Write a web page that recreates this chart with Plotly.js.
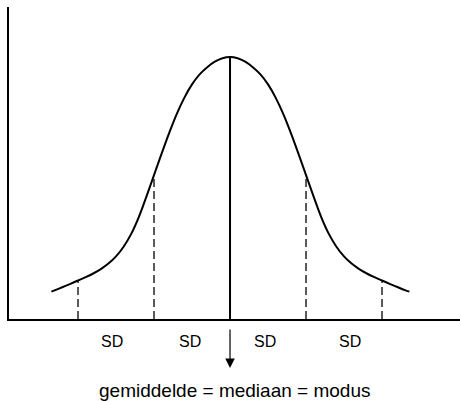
<!DOCTYPE html>
<html>
<head>
<meta charset="utf-8">
<script src="https://cdn.plot.ly/plotly-3.0.1.min.js"></script>
<style>
html,body{margin:0;padding:0;background:#fff;}
#chart{width:460px;height:401px;}
</style>
</head>
<body>
<div id="chart"></div>
<script>
// Curve: x in SD units from the mean, y = height above the baseline
const curveX = [-2.35, -2.3, -2.2, -2.1, -2.0, -1.9, -1.8, -1.7, -1.6, -1.5, -1.4, -1.3, -1.2, -1.1, -1.0, -0.9, -0.8, -0.7, -0.6, -0.5, -0.4, -0.3, -0.2, -0.1, 0,
                0.1, 0.2, 0.3, 0.4, 0.5, 0.6, 0.7, 0.8, 0.9, 1.0, 1.1, 1.2, 1.3, 1.4, 1.5, 1.6, 1.7, 1.8, 1.9, 2.0, 2.1, 2.2, 2.3, 2.36];
const curveY = [27.4, 28.9, 32, 35.2, 38.5, 41.8, 45.5, 49.9, 55.4, 62.6, 72.3, 85.1, 101.9, 122.4, 143.9, 165.4, 186.2, 205.2, 221.4, 234.6, 244.6, 251.8, 257.3, 260.8, 262,
                260.8, 257.3, 251.8, 244.6, 234.6, 221.4, 205.2, 186.2, 165.4, 143.9, 122.4, 101.9, 85.1, 72.3, 62.6, 55.4, 49.9, 45.5, 41.8, 38.5, 35.2, 32, 28.9, 27.4];

// Dashed SD lines
const sdX = [-2, -1, 1, 2];
const sdY = [39, 144, 144, 39];

// Mean line
const meanX = 0;
const meanY = 262;

// Labels
const sdLabelX = [-1.55, -0.53, 0.46, 1.58];
const sdLabel = 'SD';
const bottomLabel = 'gemiddelde = mediaan = modus';

const traces = [];
traces.push({x: curveX, y: curveY, mode: 'lines', line: {color: '#000', width: 2, shape: 'spline', smoothing: 1}, hoverinfo: 'skip'});
sdX.forEach((v, i) => {
  traces.push({x: [v, v], y: [0, sdY[i]], mode: 'lines', line: {color: '#000', width: 1.3, dash: '8px,4px'}, hoverinfo: 'skip'});
});
traces.push({x: [meanX, meanX], y: [0, meanY], mode: 'lines', line: {color: '#000', width: 2}, hoverinfo: 'skip'});

const plotTop = 7, plotBottom = 319, plotH = plotBottom - plotTop;
const py = (px) => (plotBottom - px) / plotH;

const annotations = sdLabelX.map(v => ({
  x: v, xref: 'x', y: py(341), yref: 'paper', text: sdLabel, showarrow: false,
  xanchor: 'center', yanchor: 'middle', font: {family: 'Liberation Sans, Arial, sans-serif', size: 16, color: '#000'}
}));
annotations.push({
  x: meanX, xref: 'x', y: py(368), yref: 'paper', text: '', showarrow: true,
  ax: 0, ay: -40, arrowhead: 2, arrowsize: 1.6, arrowwidth: 1.2, arrowcolor: '#000', standoff: 0
});
annotations.push({
  x: 0.5, xref: 'paper', y: py(390), yref: 'paper', text: bottomLabel, showarrow: false,
  xanchor: 'center', yanchor: 'middle', font: {family: 'Liberation Sans, Arial, sans-serif', size: 19, color: '#000'}
});

const layout = {
  width: 460, height: 401,
  margin: {l: 9, r: 0, t: plotTop, b: 401 - plotBottom, pad: 0},
  paper_bgcolor: '#fff', plot_bgcolor: '#fff',
  showlegend: false,
  xaxis: {range: [-2.908, 3.026], showline: true, linecolor: '#000', linewidth: 2, showgrid: false, zeroline: false, showticklabels: false, ticks: '', fixedrange: true},
  yaxis: {range: [0, 312], showline: true, linecolor: '#000', linewidth: 2, showgrid: false, zeroline: false, showticklabels: false, ticks: '', fixedrange: true},
  annotations: annotations
};

Plotly.newPlot('chart', traces, layout, {displayModeBar: false, staticPlot: true});
</script>
</body>
</html>
